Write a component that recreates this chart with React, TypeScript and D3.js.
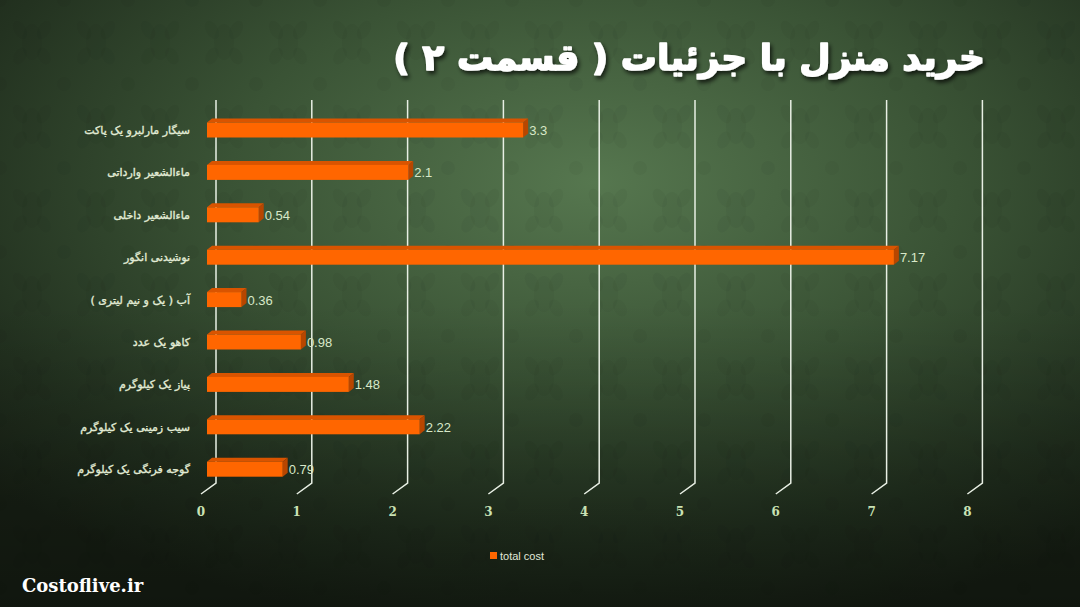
import React from "react";
import * as d3 from "d3";

const categories = [
  "سیگار مارلبرو یک پاکت",
  "ماءالشعیر وارداتی",
  "ماءالشعیر داخلی",
  "نوشیدنی انگور",
  "آب ( یک و نیم لیتری )",
  "کاهو  یک عدد",
  "پیاز یک کیلوگرم",
  "سیب زمینی یک کیلوگرم",
  "گوجه فرنگی یک کیلوگرم",
];
const values = [3.3, 2.1, 0.54, 7.17, 0.36, 0.98, 1.48, 2.22, 0.79];
const ticks = [0, 1, 2, 3, 4, 5, 6, 7, 8];
const seriesName = "total cost";
const title = "خرید منزل با جزئیات ( قسمت ۲ )";
const watermark = "Costoflive.ir";

const W = 1080;
const H = 607;
const DX = 15; // depth offset x
const DY = -11; // depth offset y
const BAR_DX = 5;
const BAR_DY = -4;

export default function App() {
  const x = d3.scaleLinear().domain([0, 8]).range([201, 201 + 8 * 95.8]);
  const y = d3
    .scaleBand<string>()
    .domain(categories)
    .range([107.8, 107.8 + 42.4 * 9])
    .padding(0);
  const barH = 15;
  const gridTop = 100;
  const gridBottom = 483;
  const bar0 = x(0) + 6;

  return (
    <svg
      width={W}
      height={H}
      style={{ position: "absolute", left: 0, top: 0, display: "block" }}
    >
      <defs>
        <radialGradient id="bg" cx="0.55" cy="0.3" r="0.75">
          <stop offset="0" stopColor="#56774f" />
          <stop offset="0.45" stopColor="#3a5335" />
          <stop offset="0.8" stopColor="#233220" />
          <stop offset="1" stopColor="#192216" />
        </radialGradient>
        <linearGradient id="bottomShade" x1="0" y1="0" x2="0" y2="1">
          <stop offset="0.5" stopColor="#000" stopOpacity="0" />
          <stop offset="1" stopColor="#000" stopOpacity="0.35" />
        </linearGradient>
        <pattern id="damask" width="64" height="84" patternUnits="userSpaceOnUse">
          <g fill="#000" fillOpacity="0.035">
            <ellipse cx="32" cy="42" rx="10" ry="18" />
            <ellipse cx="20" cy="30" rx="6" ry="10" transform="rotate(-30 20 30)" />
            <ellipse cx="44" cy="30" rx="6" ry="10" transform="rotate(30 44 30)" />
            <ellipse cx="20" cy="56" rx="6" ry="9" transform="rotate(30 20 56)" />
            <ellipse cx="44" cy="56" rx="6" ry="9" transform="rotate(-30 44 56)" />
            <circle cx="0" cy="0" r="7" />
            <circle cx="64" cy="0" r="7" />
            <circle cx="0" cy="84" r="7" />
            <circle cx="64" cy="84" r="7" />
          </g>
        </pattern>
        <filter id="tshadow" x="-10%" y="-30%" width="120%" height="160%">
          <feDropShadow dx="2" dy="3" stdDeviation="2" floodColor="#000" floodOpacity="0.7" />
        </filter>
      </defs>
      <rect x={0} y={0} width={W} height={H} fill="url(#bg)" />
      <rect x={0} y={0} width={W} height={H} fill="url(#damask)" />
      <rect x={0} y={0} width={W} height={H} fill="url(#bottomShade)" />

      {/* title */}
      <text
        x={985}
        y={70}
        direction="rtl"
        textAnchor="start"
        fontFamily="'DejaVu Sans', sans-serif"
        fontWeight="bold"
        fontSize={36}
        fill="#ffffff"
        stroke="#ffffff"
        strokeWidth={1.6}
        strokeLinejoin="round"
        filter="url(#tshadow)"
      >
        {title}
      </text>

      {/* gridlines */}
      <g stroke="#e8efe4" strokeWidth={1.5} fill="none">
        {ticks.map((t) => {
          const fx = x(t);
          const bx = fx + DX;
          return (
            <polyline
              key={t}
              points={`${bx},${gridTop} ${bx},${gridBottom} ${fx},${gridBottom - DY}`}
            />
          );
        })}
      </g>

      {/* tick labels */}
      <g
        fontFamily="'DejaVu Serif', serif"
        fontWeight="bold"
        fontSize={12}
        fill="#c9e2b4"
        textAnchor="middle"
      >
        {ticks.map((t) => (
          <text key={t} x={x(t)} y={516}>
            {t}
          </text>
        ))}
      </g>

      {/* bars */}
      {categories.map((c, i) => {
        const v = values[i];
        const yc = (y(c) as number) + y.bandwidth() / 2 + 1;
        const top = yc - barH / 2;
        const x1 = bar0 + (x(v) - x(0));
        return (
          <g key={c}>
            <polygon
              points={`${bar0},${top} ${bar0 + BAR_DX},${top + BAR_DY} ${x1 + BAR_DX},${top + BAR_DY} ${x1},${top}`}
              fill="#d95400"
            />
            <polygon
              points={`${x1},${top} ${x1 + BAR_DX},${top + BAR_DY} ${x1 + BAR_DX},${top + barH + BAR_DY} ${x1},${top + barH}`}
              fill="#b84600"
            />
            <rect x={bar0} y={top} width={x1 - bar0} height={barH} fill="#ff6600" />
            <text
              x={x1 + 6}
              y={yc + 5}
              fontFamily="'Liberation Sans', Arial, sans-serif"
              fontSize={13}
              fill="#d8e8c8"
            >
              {v}
            </text>
            <text
              x={190}
              y={yc + 4}
              direction="rtl"
              textAnchor="start"
              fontFamily="'DejaVu Sans', sans-serif"
              fontSize={11}
              fill="#e2ecd6"
              stroke="#e2ecd6"
              strokeWidth={0.35}
            >
              {c}
            </text>
          </g>
        );
      })}

      {/* legend */}
      <rect x={490} y={552} width={7} height={7} fill="#ff6600" />
      <text
        x={500}
        y={560}
        fontFamily="'Liberation Sans', Arial, sans-serif"
        fontSize={11}
        fill="#e0e8d8"
      >
        {seriesName}
      </text>

      {/* watermark */}
      <text
        x={22}
        y={592}
        fontFamily="'DejaVu Serif', serif"
        fontWeight="bold"
        fontSize={18}
        fill="#ffffff"
      >
        {watermark}
      </text>
    </svg>
  );
}
